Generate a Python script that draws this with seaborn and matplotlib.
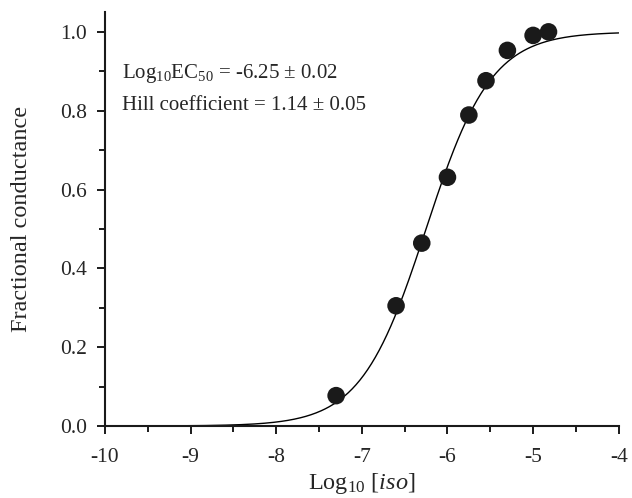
import numpy as np
import pandas as pd
import matplotlib
matplotlib.use("Agg")
import matplotlib.pyplot as plt
import seaborn as sns

# Measured fractional conductance vs log10 isoproterenol concentration
log_iso = [-7.3, -6.6, -6.3, -6.0, -5.75, -5.55, -5.3, -5.0, -4.82]
frac_cond = [0.077, 0.305, 0.464, 0.631, 0.789, 0.876, 0.953, 0.991, 1.0]

# Hill fit parameters
log_ec50 = -6.25
log_ec50_err = 0.02
hill_n = 1.14
hill_err = 0.05

x_ticks = [-10, -9, -8, -7, -6, -5, -4]
y_ticks = [0.0, 0.2, 0.4, 0.6, 0.8, 1.0]

sns.set_theme(style="ticks")
plt.rcParams["font.family"] = ["Liberation Serif", "DejaVu Serif"]
plt.rcParams["mathtext.fontset"] = "custom"
plt.rcParams["mathtext.rm"] = "Liberation Serif"
plt.rcParams["mathtext.it"] = "Liberation Serif:italic"

fig = plt.figure(figsize=(6.32, 4.98), dpi=100)
ax = fig.add_axes([0.166, 0.1446, 0.813, 0.831])

pts = pd.DataFrame({"x": log_iso, "y": frac_cond})
xs = np.linspace(-10, -4, 400)
fit = pd.DataFrame({"x": xs, "y": 1.0 / (1.0 + 10 ** ((log_ec50 - xs) * hill_n))})

sns.lineplot(data=fit, x="x", y="y", ax=ax, color="black", linewidth=1.0)
sns.scatterplot(data=pts, x="x", y="y", ax=ax, color="#1a1a1a", s=160,
                edgecolor="none", zorder=3)

ax.set_xlim(-10, -4)
ax.set_ylim(0, 1.05)
ax.set_xticks(x_ticks)
ax.set_xticklabels([str(t) for t in x_ticks])
ax.set_yticks(y_ticks)
ax.set_yticklabels([f"{t:.1f}" for t in y_ticks])
ax.set_xticks(np.arange(-9.5, -4, 1.0), minor=True)
ax.set_yticks(np.arange(0.1, 1.0, 0.2), minor=True)

for side in ["top", "right"]:
    ax.spines[side].set_visible(False)
for side in ["left", "bottom"]:
    ax.spines[side].set_linewidth(1.5)
    ax.spines[side].set_color("#1a1a1a")

ax.tick_params(which="major", direction="out", length=6, width=1.4,
               labelsize=15.5, color="#1a1a1a")
ax.tick_params(axis="x", which="major", pad=10)
ax.tick_params(axis="y", which="major", pad=7)
ax.tick_params(which="minor", direction="out", length=4, width=1.4,
               color="#1a1a1a")

ax.set_xlabel(r"Log$_{10}$ [$\mathit{iso}$]", fontsize=17.5, labelpad=3)
ax.set_ylabel("Fractional conductance", fontsize=17.5, labelpad=20)

ax.text(-9.8, 0.883,
        rf"Log$_{{10}}$EC$_{{50}}$ = {log_ec50:.2f} ± {log_ec50_err:.2f}",
        fontsize=15, ha="left", va="baseline")
ax.text(-9.8, 0.802,
        f"Hill coefficient = {hill_n:.2f} ± {hill_err:.2f}",
        fontsize=15, ha="left", va="baseline")

fig.savefig("out.png", dpi=100)
